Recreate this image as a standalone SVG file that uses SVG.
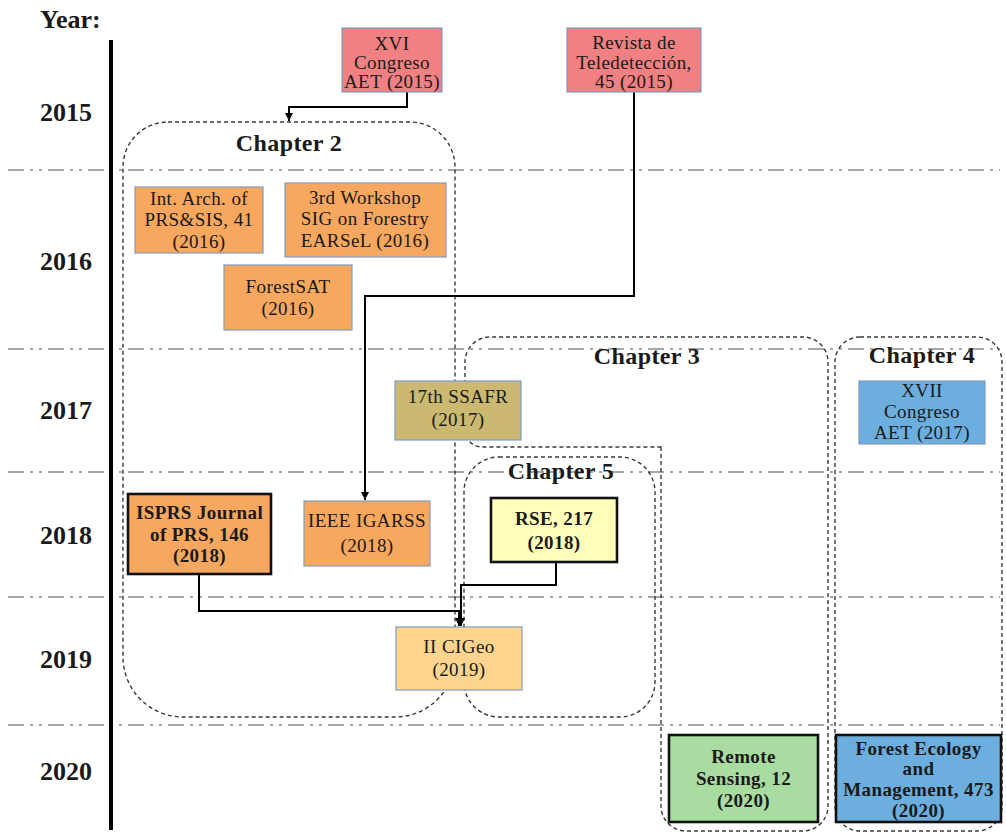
<svg xmlns="http://www.w3.org/2000/svg" width="1006" height="834" viewBox="0 0 1006 834">
<defs>
<marker id="arr" viewBox="0 0 10 10" refX="10" refY="5" markerWidth="8" markerHeight="8" markerUnits="userSpaceOnUse" orient="auto">
<path d="M0,0 L10,5 L0,10 Z" fill="#000"/>
</marker>
</defs>
<style>
.grid{stroke:#a6a6a6;stroke-width:2;stroke-dasharray:16 6 3 6 3 6;fill:none}
.chap{fill:none;stroke:#3a3a3a;stroke-width:1.4;stroke-dasharray:4 3}
.conn{fill:none;stroke:#000;stroke-width:2}
.box{stroke:#7f9cc5;stroke-width:1.2}
.bold{stroke:#111;stroke-width:2.6}
text{font-family:"Liberation Serif","DejaVu Serif",serif;fill:#1a1a1a}
.t{font-size:19px;text-anchor:middle;letter-spacing:0.4px}
.tb{font-size:19px;text-anchor:middle;font-weight:bold;letter-spacing:0.4px}
.yr{font-size:26px;font-weight:bold}
.ch{font-size:24px;font-weight:bold;text-anchor:middle;letter-spacing:0.4px}
.pink{fill:#f08082}.orange{fill:#f8a75e}.khaki{fill:#cbb971}.blue{fill:#6caedd}
.yellow{fill:#ffffbb}.lorange{fill:#ffd48e}.green{fill:#a9dca0}
</style>
<rect width="1006" height="834" fill="#fff"/>
<g id="gridlines">
<line class="grid" x1="8" y1="170" x2="1000" y2="170"/>
<line class="grid" x1="8" y1="349" x2="1000" y2="349"/>
<line class="grid" x1="8" y1="472" x2="1000" y2="472"/>
<line class="grid" x1="8" y1="597" x2="1000" y2="597"/>
<line class="grid" x1="8" y1="725" x2="1000" y2="725"/>
</g>
<g id="years">
<text class="yr" x="40" y="28" font-size="24">Year:</text>
<text class="yr" x="40" y="121">2015</text>
<text class="yr" x="40" y="270">2016</text>
<text class="yr" x="40" y="419">2017</text>
<text class="yr" x="40" y="544">2018</text>
<text class="yr" x="40" y="668">2019</text>
<text class="yr" x="40" y="780">2020</text>
<line x1="111" y1="40" x2="111" y2="830" stroke="#000" stroke-width="4"/>
</g>
<g id="chapter2">
<path class="chap" d="M168,122 H410 A45,45 0 0 1 455,167 V657 A60,60 0 0 1 395,717 H183 A60,60 0 0 1 123,657 V167 A45,45 0 0 1 168,122 Z"/>
<text class="ch" x="289" y="151">Chapter 2</text>
</g>
<g id="chapter3">
<path class="chap" d="M661,447 V806 A25,25 0 0 0 686,831 H803 A25,25 0 0 0 828,806 V362 A25,25 0 0 0 803,337 H490 A25,25 0 0 0 465,362 V430 A17,17 0 0 0 482,447 Z"/>
<text class="ch" x="647" y="364">Chapter 3</text>
</g>
<g id="chapter4">
<rect class="chap" x="835" y="337" width="167" height="494" rx="25"/>
<text class="ch" x="922" y="363">Chapter 4</text>
</g>
<g id="chapter5">
<rect class="chap" x="464" y="457" width="191" height="260" rx="35"/>
<text class="ch" x="561" y="479">Chapter 5</text>
</g>
<g id="connectors">
<path class="conn" d="M407,92 V107 H289 V121" marker-end="url(#arr)"/>
<path class="conn" d="M634,92 V296 H365 V500" marker-end="url(#arr)"/>
<path class="conn" d="M199,574 V611 H459 V626" marker-end="url(#arr)"/>
<path class="conn" d="M556,562 V585 H461 V626" marker-end="url(#arr)"/>
</g>
<g id="n-xvi">
<rect class="box pink" x="342" y="28" width="100" height="64"/>
<text class="t" x="392" y="50">XVI</text>
<text class="t" x="392" y="69">Congreso</text>
<text class="t" x="392" y="88">AET (2015)</text>
</g>
<g id="n-revista">
<rect class="box pink" x="567" y="28" width="134" height="64"/>
<text class="t" x="634" y="49">Revista de</text>
<text class="t" x="634" y="69">Teledetección,</text>
<text class="t" x="634" y="88">45 (2015)</text>
</g>
<g id="n-intarch">
<rect class="box orange" x="135" y="187" width="128" height="66"/>
<text class="t" x="199" y="205">Int. Arch. of</text>
<text class="t" x="199" y="226">PRS&amp;SIS, 41</text>
<text class="t" x="199" y="248">(2016)</text>
</g>
<g id="n-workshop">
<rect class="box orange" x="285" y="183" width="161" height="74"/>
<text class="t" x="365" y="204">3rd Workshop</text>
<text class="t" x="365" y="225">SIG on Forestry</text>
<text class="t" x="365" y="247">EARSeL (2016)</text>
</g>
<g id="n-forestsat">
<rect class="box orange" x="224" y="265" width="128" height="65"/>
<text class="t" x="288" y="293">ForestSAT</text>
<text class="t" x="288" y="315">(2016)</text>
</g>
<g id="n-ssafr">
<rect class="box khaki" x="395" y="381" width="126" height="59"/>
<text class="t" x="458" y="403">17th SSAFR</text>
<text class="t" x="458" y="426">(2017)</text>
</g>
<g id="n-xvii">
<rect class="box blue" x="859" y="381" width="126" height="63"/>
<text class="t" x="922" y="397">XVII</text>
<text class="t" x="922" y="418">Congreso</text>
<text class="t" x="922" y="439">AET (2017)</text>
</g>
<g id="n-isprs">
<rect class="bold orange" x="128" y="494" width="143" height="80"/>
<text class="tb" x="199.5" y="519">ISPRS Journal</text>
<text class="tb" x="199.5" y="541">of PRS, 146</text>
<text class="tb" x="199.5" y="562">(2018)</text>
</g>
<g id="n-igarss">
<rect class="box orange" x="304" y="501" width="126" height="65"/>
<text class="t" x="367" y="527">IEEE IGARSS</text>
<text class="t" x="367" y="552">(2018)</text>
</g>
<g id="n-rse">
<rect class="bold yellow" x="491" y="498" width="126" height="64"/>
<text class="tb" x="554" y="525">RSE, 217</text>
<text class="tb" x="554" y="549">(2018)</text>
</g>
<g id="n-cigeo">
<rect class="box lorange" x="396" y="627" width="126" height="63"/>
<text class="t" x="459" y="653">II CIGeo</text>
<text class="t" x="459" y="676">(2019)</text>
</g>
<g id="n-remote">
<rect class="bold green" x="669" y="735" width="149" height="87"/>
<text class="tb" x="743.5" y="763">Remote</text>
<text class="tb" x="743.5" y="785">Sensing, 12</text>
<text class="tb" x="743.5" y="807">(2020)</text>
</g>
<g id="n-forest">
<rect class="bold blue" x="836" y="735" width="165" height="87"/>
<text class="tb" x="918.5" y="755">Forest Ecology</text>
<text class="tb" x="918.5" y="775">and</text>
<text class="tb" x="918.5" y="796">Management, 473</text>
<text class="tb" x="918.5" y="817">(2020)</text>
</g>
</svg>
